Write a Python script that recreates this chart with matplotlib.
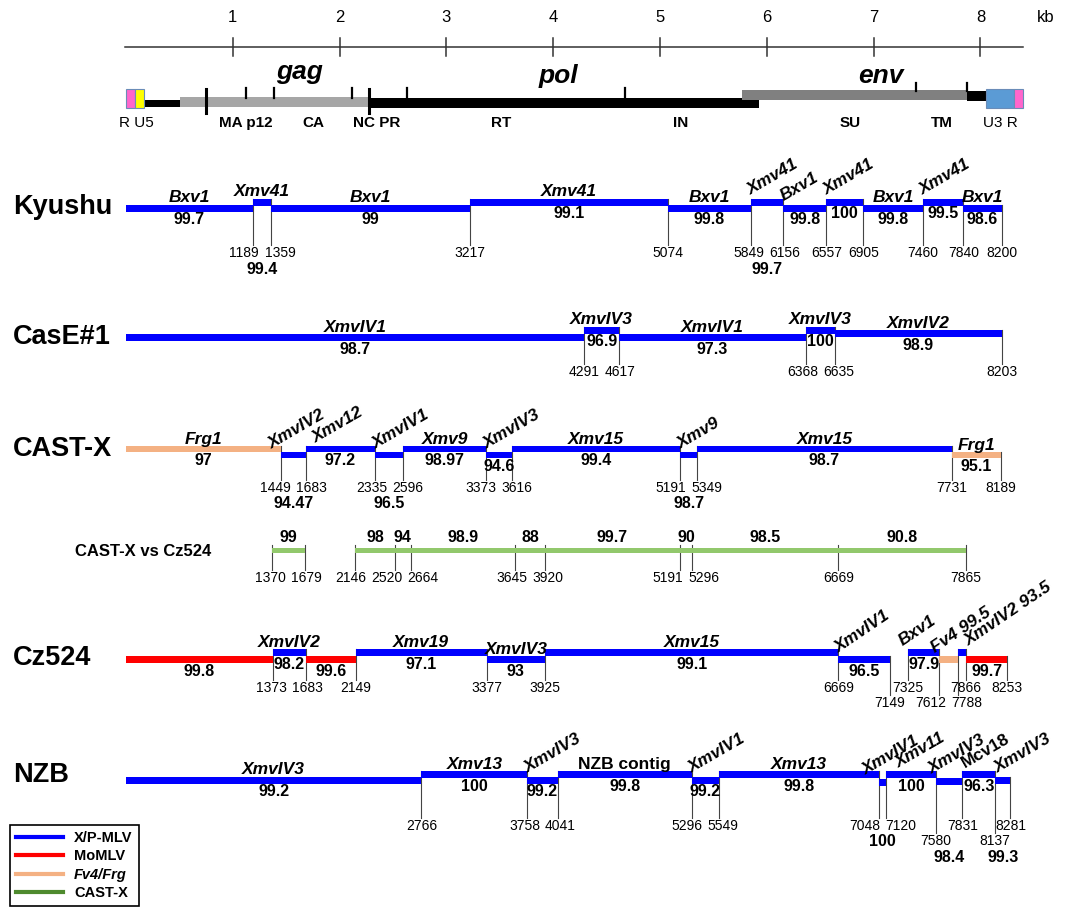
import matplotlib.pyplot as plt
from matplotlib.patches import Rectangle
from matplotlib.lines import Line2D

plt.rcParams['font.family'] = ['Liberation Sans', 'DejaVu Sans']

# ---- data -------------------------------------------------------------
scale_kb = [1, 2, 3, 4, 5, 6, 7, 8]

# provirus map (bp)
map_leader = (165, 505)
map_gag = (505, 2275)
map_pol = (2275, 5927)
map_env = (5768, 7875)
map_tail = (7875, 8052)
map_ltr5 = [(0, 85, '#ff66cc'), (85, 165, '#ffff00')]
map_ltr3 = [(8052, 8315, '#5b9bd5'), (8315, 8399, '#ff66cc')]
map_tall_ticks = [749, 2275]
map_short_ticks = [1124, 1386, 2116, 2631, 4672]
map_env_ticks = [7397, 7875]

# Kyushu
kyushu_bounds = [0, 1189, 1359, 3217, 5074, 5849, 6156, 6557, 6905, 7460, 7840, 8200]
kyushu_names = ['Bxv1', 'Xmv41', 'Bxv1', 'Xmv41', 'Bxv1', 'Xmv41', 'Bxv1', 'Xmv41', 'Bxv1', 'Xmv41', 'Bxv1']
kyushu_ident = ['99.7', '99.4', '99', '99.1', '99.8', '99.7', '99.8', '100', '99.8', '99.5', '98.6']

# CasE#1
case_bounds = [0, 4291, 4617, 6368, 6635, 8203]
case_names = ['XmvIV1', 'XmvIV3', 'XmvIV1', 'XmvIV3', 'XmvIV2']
case_ident = ['98.7', '96.9', '97.3', '100', '98.9']

# CAST-X
castx_bounds = [0, 1449, 1683, 2335, 2596, 3373, 3616, 5191, 5349, 7731, 8189]
castx_names = ['Frg1', 'XmvIV2', 'Xmv12', 'XmvIV1', 'Xmv9', 'XmvIV3', 'Xmv15', 'Xmv9', 'Xmv15', 'Frg1']
castx_ident = ['97', '94.47', '97.2', '96.5', '98.97', '94.6', '99.4', '98.7', '98.7', '95.1']
castx_type = ['frg', 'xp', 'xp', 'xp', 'xp', 'xp', 'xp', 'xp', 'xp', 'frg']

# CAST-X vs Cz524
cmp_start = [1370, 2146, 2520, 2664, 3645, 3920, 5191, 5296, 6669]
cmp_end = [1679, 2520, 2664, 3645, 3920, 5191, 5296, 6669, 7865]
cmp_ident = ['99', '98', '94', '98.9', '88', '99.7', '90', '98.5', '90.8']

# Cz524
cz_start = [0, 1373, 1683, 2149, 3377, 3925, 6669, 7325, 7612, 7788, 7866]
cz_end = [1373, 1683, 2149, 3377, 3925, 6669, 7149, 7612, 7788, 7866, 8253]
cz_names = ['', 'XmvIV2', '', 'Xmv19', 'XmvIV3', 'Xmv15', 'XmvIV1', 'Bxv1', 'Fv4', 'XmvIV2', '']
cz_ident = ['99.8', '98.2', '99.6', '97.1', '93', '99.1', '96.5', '97.9', '99.5', '93.5', '99.7']
cz_type = ['mo', 'xp', 'mo', 'xp', 'xp', 'xp', 'xp', 'xp', 'frg', 'xp', 'mo']

# NZB
nzb_bounds = [0, 2766, 3758, 4041, 5296, 5549, 7048, 7120, 7580, 7831, 8137, 8281]
nzb_names = ['XmvIV3', 'Xmv13', 'XmvIV3', 'NZB contig', 'XmvIV1', 'Xmv13', 'XmvIV1', 'Xmv11', 'XmvIV3', 'Mcv18', 'XmvIV3']
nzb_ident = ['99.2', '100', '99.2', '99.8', '99.2', '99.8', '100', '100', '98.4', '96.3', '99.3']

legend_labels = ['X/P-MLV', 'MoMLV', 'Fv4/Frg', 'CAST-X']

# ---- style ------------------------------------------------------------
COL = {'xp': '#0000ff', 'mo': '#ff0000', 'frg': '#f4b183'}
GREEN_BAR = '#92c86c'
GREEN_LEG = '#4e8a2e'
LINE = '#444444'

W, H = 1068, 910
PX = 0.1068   # pixels per bp
X0 = 126      # pixel of position 0

fig = plt.figure(figsize=(W / 100, H / 100), dpi=100)
ax = fig.add_axes([0, 0, 1, 1])
ax.set_xlim(-X0 / PX, (W - X0) / PX)
ax.set_ylim(H, 0)
ax.axis('off')


def bp(px):
    return (px - X0) / PX


def spread(xs, gap):
    xs = list(xs)
    for _ in range(300):
        moved = False
        for i in range(len(xs) - 1):
            d = xs[i + 1] - xs[i]
            if d < gap - 1e-6:
                s = (gap - d) / 2
                xs[i] -= s
                xs[i + 1] += s
                moved = True
        if not moved:
            break
    return xs


def draw_numbers(bounds, tops, tier_y):
    tiers = {}
    for b in bounds:
        ax.plot([b, b], [tops[b], tier_y(b) - 8], color=LINE, lw=0.8, zorder=2)
        tiers.setdefault(tier_y(b), []).append(b)
    for ty, bs in tiers.items():
        bs = sorted(bs)
        for b, x in zip(bs, spread(bs, 36 / PX)):
            ax.text(x, ty, str(b), ha='center', va='center', fontsize=10, zorder=4)


def draw_row(starts, ends, names, idents, colors, yc, lift, num_y, rot=(), low=(),
             tier2=(), upright=(), joined=(), angle=30, thick=7, rot_gap=33):
    def tier_y(b):
        return num_y + 15 if b in tier2 else num_y

    rot = sorted(rot)
    anchors = dict(zip(rot, spread([starts[i] + 2 / PX for i in rot], rot_gap / PX)))

    tops = {}
    for i, (s, e) in enumerate(zip(starts, ends)):
        y = yc - lift[i]
        top, bot = y - thick / 2, y + thick / 2
        ax.add_patch(Rectangle((s, top), e - s, thick, facecolor=colors[i],
                               edgecolor='none', zorder=3))
        for b in (s, e):
            tops[b] = min(tops.get(b, 1e9), top)
        st = 'normal' if i in upright else 'italic'
        if names[i]:
            if i in anchors:
                lab = names[i] + (' ' + idents[i] if i in joined else '')
                ax.text(anchors[i], top - 0.5, lab, rotation=angle, rotation_mode='anchor',
                        ha='left', va='bottom', fontsize=12.5, fontweight='bold',
                        fontstyle=st, zorder=5)
            else:
                ax.text((s + e) / 2, top + 1, names[i], ha='center', va='bottom',
                        fontsize=12.5, fontweight='bold', fontstyle=st, zorder=5)
        if i in joined:
            continue
        if i in low:
            yy = max(tier_y(s), tier_y(e)) + 16
            ax.text((s + e) / 2, yy, idents[i], ha='center', va='center',
                    fontsize=11.5, fontweight='bold', zorder=5)
        else:
            ax.text((s + e) / 2, bot + 1, idents[i], ha='center', va='top',
                    fontsize=11.5, fontweight='bold', zorder=5)
    draw_numbers(sorted(b for b in tops if b != 0), tops, tier_y)


# ---- scale bar ----------------------------------------------------------
ax.plot([bp(125), bp(1023)], [47, 47], color='#333333', lw=1.1)
for k in scale_kb:
    ax.plot([k * 1000, k * 1000], [38, 56], color='#333333', lw=1.1)
    ax.text(k * 1000, 18, str(k), ha='center', va='center', fontsize=12)
ax.text(bp(1046), 18, 'kb', ha='center', va='center', fontsize=12)

# ---- provirus map -------------------------------------------------------
ax.add_patch(Rectangle((map_leader[0], 99.5), map_leader[1] - map_leader[0], 7, color='black', lw=0))
ax.add_patch(Rectangle((map_gag[0], 97), map_gag[1] - map_gag[0], 10, color='#a6a6a6', lw=0))
ax.add_patch(Rectangle((map_pol[0], 98), map_pol[1] - map_pol[0], 10, color='black', lw=0))
ax.add_patch(Rectangle((map_env[0], 90), map_env[1] - map_env[0], 10, color='#808080', lw=0, zorder=2))
ax.add_patch(Rectangle((map_tail[0], 91), map_tail[1] - map_tail[0], 10, color='black', lw=0, zorder=2))
for s, e, c in map_ltr5 + map_ltr3:
    ax.add_patch(Rectangle((s, 89), e - s, 19, facecolor=c, edgecolor='#6a8cb8', lw=0.8, zorder=3))
for t in map_tall_ticks:
    ax.plot([t, t], [89, 113], color='black', lw=2.2, zorder=4)
for t in map_short_ticks:
    ax.plot([t, t], [88, 98], color='black', lw=1.6, zorder=4)
for t in map_env_ticks:
    ax.plot([t, t], [83, 91], color='black', lw=1.6, zorder=4)

ax.text(bp(300), 79, 'gag', ha='center', va='baseline', fontsize=19, fontweight='bold', fontstyle='italic')
ax.text(bp(558), 83, 'pol', ha='center', va='baseline', fontsize=19, fontweight='bold', fontstyle='italic')
ax.text(bp(881), 83, 'env', ha='center', va='baseline', fontsize=19, fontweight='bold', fontstyle='italic')

map_labels = [('R U5', 136, 'normal'), ('MA p12', 246, 'bold'), ('CA', 313, 'bold'),
              ('NC PR', 377, 'bold'), ('RT', 501, 'bold'), ('IN', 681, 'bold'),
              ('SU', 850, 'bold'), ('TM', 942, 'bold'), ('U3 R', 1000, 'normal')]
for txt, x, w in map_labels:
    ax.text(bp(x), 123, txt, ha='center', va='center', fontsize=11, fontweight=w)

# ---- row titles ---------------------------------------------------------
for txt, y in [('Kyushu', 207), ('CasE#1', 337), ('CAST-X', 449), ('Cz524', 658), ('NZB', 775)]:
    ax.text(bp(13), y, txt, ha='left', va='center', fontsize=19.5, fontweight='bold')
ax.text(bp(75), 551, 'CAST-X vs Cz524', ha='left', va='center', fontsize=12, fontweight='bold')

# ---- rows ---------------------------------------------------------------
ky_s, ky_e = kyushu_bounds[:-1], kyushu_bounds[1:]
draw_row(ky_s, ky_e, kyushu_names, kyushu_ident, [COL['xp']] * len(ky_s),
         yc=208, lift=[0, 6] * 5 + [0], num_y=253, rot={5, 6, 7, 9}, low={1, 5})

ca_s, ca_e = case_bounds[:-1], case_bounds[1:]
draw_row(ca_s, ca_e, case_names, case_ident, [COL['xp']] * len(ca_s),
         yc=337, lift=[0, 7, 0, 7, 4], num_y=372)

cx_s, cx_e = castx_bounds[:-1], castx_bounds[1:]
draw_row(cx_s, cx_e, castx_names, castx_ident, [COL[t] for t in castx_type],
         yc=455, lift=[6, 0] * 5, num_y=488, rot={1, 2, 3, 5, 7}, low={1, 3, 7},
         thick=6.5, rot_gap=44)

# CAST-X vs Cz524 comparison
cmp_tops = {}
for s, e, v in zip(cmp_start, cmp_end, cmp_ident):
    ax.add_patch(Rectangle((s, 547.5), e - s, 5.5, facecolor=GREEN_BAR, edgecolor='none', zorder=3))
    ax.text((s + e) / 2, 538, v, ha='center', va='center', fontsize=11.5, fontweight='bold')
    cmp_tops[s] = 545
    cmp_tops[e] = 545
draw_numbers(sorted(cmp_tops), cmp_tops, lambda b: 578)

draw_row(cz_start, cz_end, cz_names, cz_ident, [COL[t] for t in cz_type],
         yc=659, lift=[0, 6.5] * 5 + [0], num_y=688, rot={6, 7, 8, 9}, joined={8, 9},
         tier2={7149, 7612, 7788}, angle=34)

nz_s, nz_e = nzb_bounds[:-1], nzb_bounds[1:]
draw_row(nz_s, nz_e, nzb_names, nzb_ident, [COL['xp']] * len(nz_s),
         yc=780, lift=[0, 5.5, 0, 5.5, 0, 5.5, -2, 5.5, -1, 5.5, 0], num_y=826,
         rot={2, 4, 6, 7, 8, 9, 10}, low={6, 8, 10}, tier2={7580, 8137},
         upright={3, 9})

# ---- legend -------------------------------------------------------------
handles = [Line2D([0], [0], color=c, lw=3) for c in
           [COL['xp'], COL['mo'], COL['frg'], GREEN_LEG]]
leg = ax.legend(handles, legend_labels, loc='lower left', bbox_to_anchor=(10 / W, 4 / H),
                bbox_transform=fig.transFigure, frameon=True, fancybox=False,
                edgecolor='black', framealpha=1, prop={'weight': 'bold', 'size': 10.5},
                handlelength=3.2, handletextpad=0.8, labelspacing=0.3, borderpad=0.4,
                borderaxespad=0)
leg.get_frame().set_linewidth(1.2)
leg.get_texts()[2].set_fontstyle('italic')

plt.savefig('out.png', dpi=100)
